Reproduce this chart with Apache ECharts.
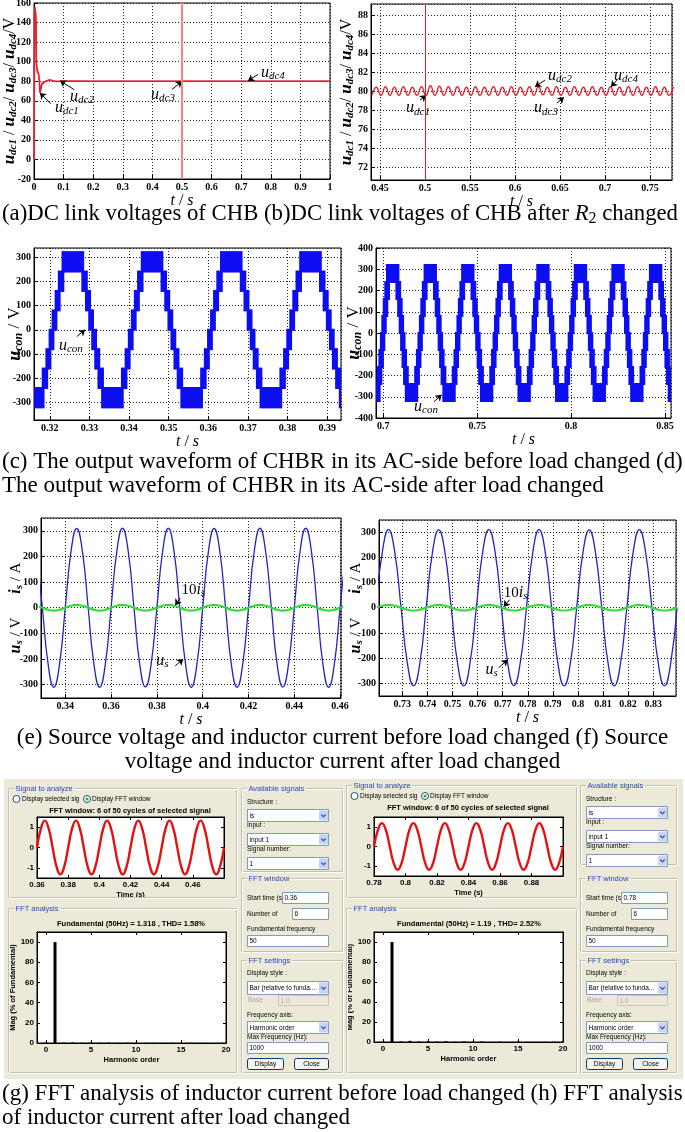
<!DOCTYPE html>
<html>
<head>
<meta charset="UTF-8">
<title>CHB / CHBR waveforms</title>
<style>
  html, body { margin: 0; padding: 0; background: #fff; }
  #main { width: 685px; height: 1132px; }
</style>
<script src="https://cdn.jsdelivr.net/npm/echarts@6.0.0/dist/echarts.min.js"></script>
</head>
<body>
<div id="main"></div>
<script>
// ---- (a) dc-link voltages after start-up  [s] / [V]
var aT = [0, 0.001, 0.002, 0.003, 0.004, 0.005, 0.006, 0.007, 0.008, 0.010,
          0.013, 0.016, 0.018, 0.020, 0.023, 0.027, 0.032, 0.040, 0.046, 0.052,
          0.058, 0.065, 0.075, 0.090, 0.12, 0.2, 0.3, 0.4, 0.5, 0.6,
          0.7, 0.8, 0.9, 1.0];
var aUdc1 = [0, 55, 150, 156, 153, 147, 151, 139, 100, 93,
             90, 87, 79, 68, 71, 77, 79, 80, 80.8, 81.4,
             81, 80.4, 79.8, 80, 80, 80, 80, 80, 80, 80,
             80, 80, 80, 80];
var aUdc2 = [0, 60, 144, 149, 146, 142, 145, 131, 97, 90,
             89, 86, 81, 72, 74, 78, 79.5, 80.2, 81, 81.3,
             80.8, 80.2, 79.9, 80, 80.3, 80, 80, 80, 80, 80,
             80, 80, 80, 80];

// ---- (b) 100 Hz ripple, one value per peak / trough starting at bT0
var bT0 = 0.441, bDt = 0.005;
var bUdc = [79.6, 80.45, 79.6, 80.5, 79.6, 80.45, 79.6, 80.5, 79.6, 80.45, 79.6, 80.5,
            79.55, 80.6, 79.6, 80.55, 79.6, 80.5, 79.6, 80.5, 79.6, 80.45, 79.6, 80.5,
            79.6, 80.45, 79.6, 80.5, 79.6, 80.45, 79.6, 80.5, 79.6, 80.45, 79.6, 80.5,
            79.6, 80.5, 79.65, 80.45, 79.6, 80.5, 79.6, 80.45, 79.6, 80.5, 79.6, 80.45,
            79.6, 80.5, 79.6, 80.45, 79.6, 80.5, 79.6, 80.45, 79.6, 80.5, 79.6, 80.5,
            79.6, 80.45, 79.6, 80.5, 79.6, 80.45, 79.6, 80.5];

// ---- (c), (d) multilevel output: [time the band starts, lower level of band in V]
var cellV = 80;
var conC = [
  [0.3150, -320],
  [0.3183, -240], [0.31923, -160], [0.32004, -80], [0.3208, 0], [0.32156, 80], [0.32237, 160], [0.3233, 240],
  [0.3283, 160], [0.32923, 80], [0.33004, 0], [0.3308, -80], [0.33156, -160], [0.33237, -240], [0.3333, -320],
  [0.3383, -240], [0.33923, -160], [0.34004, -80], [0.3408, 0], [0.34156, 80], [0.34237, 160], [0.3433, 240],
  [0.3483, 160], [0.34923, 80], [0.35004, 0], [0.3508, -80], [0.35156, -160], [0.35237, -240], [0.3533, -320],
  [0.3583, -240], [0.35923, -160], [0.36004, -80], [0.3608, 0], [0.36156, 80], [0.36237, 160], [0.3633, 240],
  [0.3683, 160], [0.36923, 80], [0.37004, 0], [0.3708, -80], [0.37156, -160], [0.37237, -240], [0.3733, -320],
  [0.3783, -240], [0.37923, -160], [0.38004, -80], [0.3808, 0], [0.38156, 80], [0.38237, 160], [0.3833, 240],
  [0.3883, 160], [0.38923, 80], [0.39004, 0], [0.3908, -80], [0.39156, -160], [0.39237, -240], [0.3933, -320],
  [0.3950, null]
];
var conD = [
  [0.6950, -320],
  [0.6975, -240], [0.69843, -160], [0.69924, -80], [0.7000, 0], [0.70076, 80], [0.70157, 160], [0.7025, 240],
  [0.7075, 160], [0.70843, 80], [0.70924, 0], [0.7100, -80], [0.71076, -160], [0.71157, -240], [0.7125, -320],
  [0.7175, -240], [0.71843, -160], [0.71924, -80], [0.7200, 0], [0.72076, 80], [0.72157, 160], [0.7225, 240],
  [0.7275, 160], [0.72843, 80], [0.72924, 0], [0.7300, -80], [0.73076, -160], [0.73157, -240], [0.7325, -320],
  [0.7375, -240], [0.73843, -160], [0.73924, -80], [0.7400, 0], [0.74076, 80], [0.74157, 160], [0.7425, 240],
  [0.7475, 160], [0.74843, 80], [0.74924, 0], [0.7500, -80], [0.75076, -160], [0.75157, -240], [0.7525, -320],
  [0.7575, -240], [0.75843, -160], [0.75924, -80], [0.7600, 0], [0.76076, 80], [0.76157, 160], [0.7625, 240],
  [0.7675, 160], [0.76843, 80], [0.76924, 0], [0.7700, -80], [0.77076, -160], [0.77157, -240], [0.7725, -320],
  [0.7775, -240], [0.77843, -160], [0.77924, -80], [0.7800, 0], [0.78076, 80], [0.78157, 160], [0.7825, 240],
  [0.7875, 160], [0.78843, 80], [0.78924, 0], [0.7900, -80], [0.79076, -160], [0.79157, -240], [0.7925, -320],
  [0.7975, -240], [0.79843, -160], [0.79924, -80], [0.8000, 0], [0.80076, 80], [0.80157, 160], [0.8025, 240],
  [0.8075, 160], [0.80843, 80], [0.80924, 0], [0.8100, -80], [0.81076, -160], [0.81157, -240], [0.8125, -320],
  [0.8175, -240], [0.81843, -160], [0.81924, -80], [0.8200, 0], [0.82076, 80], [0.82157, 160], [0.8225, 240],
  [0.8275, 160], [0.82843, 80], [0.82924, 0], [0.8300, -80], [0.83076, -160], [0.83157, -240], [0.8325, -320],
  [0.8375, -240], [0.83843, -160], [0.83924, -80], [0.8400, 0], [0.84076, 80], [0.84157, 160], [0.8425, 240],
  [0.8475, 160], [0.84843, 80], [0.84924, 0], [0.8500, -80], [0.85076, -160], [0.85157, -240], [0.8525, -320],
  [0.8550, null]
];

// ---- (e), (f) source voltage and 10x source current, one value every 2.5 ms
var acDt = 0.0025;
var eT0 = 0.3275;
var eUs = [219, 0, -219, -310, -219, 0, 219, 309,
           219, 0, -219, -310, -219, 0, 219, 310,
           219, 0, -219, -309, -219, 0, 219, 310,
           219, 0, -219, -310, -219, 0, 219, 309,
           219, 0, -219, -310, -219, 0, 219, 310,
           219, 0, -219, -309, -219, 0, 219, 310,
           219, 0, -219, -310, -219, 0, 219];
var eIs10 = [7.8, 0, -7.8, -11, -7.8, 0, 7.8, 11,
             7.8, 0, -7.8, -11, -7.8, 0, 7.8, 11,
             7.8, 0, -7.8, -11, -7.8, 0, 7.8, 11,
             7.8, 0, -7.8, -11, -7.8, 0, 7.8, 11,
             7.8, 0, -7.8, -11, -7.8, 0, 7.8, 11,
             7.8, 0, -7.8, -11, -7.8, 0, 7.8, 11,
             7.8, 0, -7.8, -11, -7.8, 0, 7.8];
var fT0 = 0.7195;
var fUs = [0, 219, 310, 219, 0, -219, -310, -219,
           0, 219, 309, 219, 0, -219, -310, -219,
           0, 219, 310, 219, 0, -219, -309, -219,
           0, 219, 310, 219, 0, -219, -310, -219,
           0, 219, 309, 219, 0, -219, -310, -219,
           0, 219, 310, 219, 0, -219, -310, -219,
           0];
var fIs10 = [0, 7.8, 11, 7.8, 0, -7.8, -11, -7.8,
             0, 7.8, 11, 7.8, 0, -7.8, -11, -7.8,
             0, 7.8, 11, 7.8, 0, -7.8, -11, -7.8,
             0, 7.8, 11, 7.8, 0, -7.8, -11, -7.8,
             0, 7.8, 11, 7.8, 0, -7.8, -11, -7.8,
             0, 7.8, 11, 7.8, 0, -7.8, -11, -7.8,
             0];

// ---- (g), (h) FFT window signal (2.5 ms steps) and harmonic spectrum
var gT0 = 0.36, hT0 = 0.78;
var gIs = [0, 0.93, 1.32, 0.93, 0, -0.93, -1.32, -0.93,
           0, 0.93, 1.32, 0.93, 0, -0.93, -1.32, -0.93,
           0, 0.93, 1.32, 0.93, 0, -0.93, -1.32, -0.93,
           0, 0.93, 1.32, 0.93, 0, -0.93, -1.32, -0.93,
           0, 0.93, 1.32, 0.93, 0, -0.93, -1.32, -0.93,
           0, 0.93, 1.32, 0.93, 0, -0.93, -1.32, -0.93,
           0];
var hIs = [0, 0.84, 1.19, 0.84, 0, -0.84, -1.19, -0.84,
           0, 0.84, 1.19, 0.84, 0, -0.84, -1.19, -0.84,
           0, 0.84, 1.19, 0.84, 0, -0.84, -1.19, -0.84,
           0, 0.84, 1.19, 0.84, 0, -0.84, -1.19, -0.84,
           0, 0.84, 1.19, 0.84, 0, -0.84, -1.19, -0.84,
           0, 0.84, 1.19, 0.84, 0, -0.84, -1.19, -0.84,
           0];
var harmOrder = [0, 1, 2, 3, 4, 5, 6, 7, 8, 9, 10, 11, 12, 13, 14, 15, 16, 17, 18, 19, 20];
var gMag = [0.4, 100, 0.5, 0.6, 0.3, 0.5, 0.2, 0.4, 0.2, 0.3, 0.2, 0.2, 0.2, 0.1, 0.2, 0.1, 0.1, 0.1, 0.1, 0.1, 0.1];
var hMag = [0.5, 100, 0.7, 1.2, 0.5, 1.0, 0.4, 0.8, 0.3, 0.6, 0.3, 0.5, 0.2, 0.3, 0.2, 0.3, 0.2, 0.2, 0.2, 0.2, 0.2];
var gFund = 'Fundamental (50Hz) = 1.318 , THD= 1.58%';
var hFund = 'Fundamental (50Hz) = 1.19 , THD= 2.52%';

// ---------------------------------------------------------------
var serif = '"Liberation Serif", "Times New Roman", serif';
var sans = '"Liberation Sans", Arial, sans-serif';
var conBlue = '#0d0df2';

function pairs(xs, ys) { return xs.map(function (x, i) { return [x, ys[i]]; }); }
function sampled(t0, dt, ys) { return ys.map(function (y, i) { return [+(t0 + i * dt).toFixed(5), y]; }); }
function bands(steps) {
    var out = [];
    for (var i = 0; i < steps.length - 1; i++) {
        out.push([steps[i][0], steps[i + 1][0], steps[i][1], steps[i][1] + cellV]);
    }
    return out;
}
// each band is widened by the trace thickness (ex px each side)
function bandRenderer(ex) {
    return function (params, api) {
        var a = api.coord([api.value(0), api.value(3)]);
        var b = api.coord([api.value(1), api.value(2)]);
        var cs = params.coordSys;
        var r = echarts.graphic.clipRectByRect(
            { x: a[0] - ex, y: a[1] - 1, width: b[0] - a[0] + 2 * ex, height: b[1] - a[1] + 2 },
            { x: cs.x, y: cs.y, width: cs.width, height: cs.height });
        return r && { type: 'rect', shape: r, style: { fill: conBlue } };
    };
}

var annRich = {
    u: { fontFamily: serif, fontStyle: 'italic', fontSize: 16, color: '#000' },
    s: { fontFamily: serif, fontStyle: 'italic', fontSize: 11, color: '#000', padding: [7, 0, 0, 0] },
    n: { fontFamily: serif, fontSize: 15, color: '#000' }
};
function nameRich(big) {
    return {
        u: { fontFamily: serif, fontStyle: 'italic', fontWeight: 'bold', fontSize: big, color: '#000' },
        s: { fontFamily: serif, fontStyle: 'italic', fontWeight: 'bold', fontSize: Math.round(big * 0.66), color: '#000', padding: [Math.round(big * 0.45), 0, 0, 0] },
        n: { fontFamily: serif, fontSize: big - 1, color: '#000' },
        gap: { width: 24 }
    };
}
var tRich = {
    i: { fontFamily: serif, fontStyle: 'italic', fontSize: 16, color: '#000' },
    n: { fontFamily: serif, fontSize: 16, color: '#000' }
};
var udcName = '{u|u}{s|dc1}{n| / }{u|u}{s|dc2}{n|/ }{u|u}{s|dc3}{n|/ }{u|u}{s|dc4}{n|/V}';
var conName = '{u|u}{s|con}{n| / V}';
var acName = '{u|u}{s|s}{n| / V}{gap| }{u|i}{s|s}{n| / A}';

// arrows + italic labels drawn in data coordinates
function notes(list) {
    return {
        markPoint: {
            symbol: 'circle', symbolSize: 0, silent: true,
            label: { show: true, position: 'inside', rich: annRich },
            data: list.map(function (n) { return { coord: n.at, label: { formatter: n.text } }; })
        },
        markLine: {
            silent: true, symbol: ['none', 'arrow'], symbolSize: 6,
            lineStyle: { color: '#000', width: 1, type: 'solid' },
            label: { show: false },
            data: list.map(function (n) { return [{ coord: n.from }, { coord: n.to }]; })
                .concat((list.vline || []).map(function (v) {
                    return [{ coord: [v.x, v.y0], symbol: 'none', lineStyle: v.style }, { coord: [v.x, v.y1], symbol: 'none' }];
                }))
        }
    };
}

function plotX(gi, min, max, o) {
    o = o || {};
    return {
        type: 'value', gridIndex: gi, min: min, max: max, interval: o.interval, splitNumber: o.split,
        name: '{i|t}{n| / }{i|s}', nameLocation: 'middle', nameGap: o.gap || 9,
        nameTextStyle: { rich: tRich },
        axisLine: { onZero: false, lineStyle: { color: '#000' } },
        axisTick: { inside: true, length: 4, lineStyle: { color: '#000' } },
        axisLabel: { color: '#000', fontFamily: serif, fontWeight: 'bold', fontSize: 10, margin: 3,
                     showMinLabel: o.minLabel !== false, showMaxLabel: o.maxLabel !== false },
        splitLine: { show: true, lineStyle: { color: '#222', type: [1, 2], width: 1 } }
    };
}
function plotY(gi, min, max, name, size, gap, o) {
    o = o || {};
    return {
        type: 'value', gridIndex: gi, min: min, max: max, interval: o.interval, splitNumber: o.split,
        name: name, nameLocation: 'middle', nameGap: gap, nameMoveOverlap: false,
        nameTextStyle: { rich: nameRich(size) },
        axisLine: { onZero: false, lineStyle: { color: '#000' } },
        axisTick: { inside: true, length: 4, lineStyle: { color: '#000' } },
        axisLabel: { color: '#000', fontFamily: serif, fontWeight: 'bold', fontSize: 10, margin: 3,
                     showMinLabel: o.minLabel !== false, showMaxLabel: o.maxLabel !== false },
        splitLine: { show: true, lineStyle: { color: '#222', type: [1, 2], width: 1 } }
    };
}
var guiLabel = { color: '#000', fontFamily: sans, fontWeight: 'bold', fontSize: 8, margin: 3 };
function guiAxis(gi, min, max, o) {
    o = o || {};
    return {
        type: 'value', gridIndex: gi, position: o.pos, min: min, max: max, interval: o.interval, splitNumber: o.split,
        name: o.name || '', nameLocation: 'middle', nameGap: o.gap || 12,
        nameTextStyle: { fontFamily: sans, fontWeight: 'bold', fontSize: 7.5, color: '#000' },
        axisLine: { onZero: false, lineStyle: { color: '#000' } },
        axisTick: { inside: true, length: 3, lineStyle: { color: '#000' } },
        axisLabel: Object.assign({ show: o.mirror !== true, showMinLabel: o.minLabel !== false, showMaxLabel: o.maxLabel !== false }, guiLabel),
        splitLine: { show: false }
    };
}

var grids = [
    { left: 34, top: 3, width: 296, height: 176 },     // a
    { left: 371, top: 4, width: 301, height: 176 },    // b
    { left: 34, top: 248, width: 307, height: 172 },   // c
    { left: 376, top: 248, width: 295, height: 170 },  // d
    { left: 41, top: 518, width: 300, height: 180 },   // e
    { left: 379, top: 520, width: 297, height: 176 },  // f
    { left: 37, top: 817, width: 187, height: 61 },    // g signal
    { left: 37, top: 932, width: 189, height: 111 },   // g spectrum
    { left: 374, top: 817, width: 189, height: 59 },   // h signal
    { left: 374, top: 932, width: 189, height: 110 }   // h spectrum
].map(function (g) {
    return Object.assign({ show: true, backgroundColor: '#fff', borderColor: '#000', borderWidth: 1,
                           containLabel: false, outerBoundsMode: 'none' }, g);
});

var xAxes = [
    plotX(0, 0, 1, { interval: 0.1, gap: 7 }),
    plotX(1, 0.44, 0.7744, { split: 7, minLabel: false, maxLabel: false, gap: 8 }),
    plotX(2, 0.316, 0.3935, { split: 8, minLabel: false, maxLabel: false, gap: 8 }),
    plotX(3, 0.6961, 0.8532, { split: 3, minLabel: false, maxLabel: false, gap: 8 }),
    plotX(4, 0.3294, 0.4604, { split: 7, minLabel: false, maxLabel: false, gap: 7 }),
    plotX(5, 0.7207, 0.8391, { split: 12, minLabel: false, maxLabel: false, gap: 8 }),
    guiAxis(6, 0.36, 0.48, { interval: 0.02, maxLabel: false, name: 'Time (s)', gap: 13 }),
    guiAxis(7, -1, 20, { split: 4, minLabel: false, name: 'Harmonic order', gap: 13 }),
    guiAxis(8, 0.78, 0.90, { interval: 0.02, maxLabel: false, name: 'Time (s)', gap: 13 }),
    guiAxis(9, -1, 20, { split: 4, minLabel: false, name: 'Harmonic order', gap: 13 }),
    guiAxis(6, 0.36, 0.48, { interval: 0.02, pos: 'top', mirror: true }),
    guiAxis(7, -1, 20, { split: 4, pos: 'top', mirror: true }),
    guiAxis(8, 0.78, 0.90, { interval: 0.02, pos: 'top', mirror: true }),
    guiAxis(9, -1, 20, { split: 4, pos: 'top', mirror: true })
];
var yAxes = [
    plotY(0, -20, 160, udcName, 17, 15, { interval: 20 }),
    plotY(1, 70.7, 89.2, udcName, 17, 15, { split: 9, minLabel: false, maxLabel: false }),
    plotY(2, -372, 337, conName, 18, 9, { split: 7, minLabel: false, maxLabel: false }),
    plotY(3, -400, 400, conName, 18, 12, { interval: 100 }),
    plotY(4, -352, 350, acName, 16, 16, { split: 7, minLabel: false, maxLabel: false }),
    plotY(5, -350, 348, acName, 16, 14, { split: 7, minLabel: false, maxLabel: false }),
    guiAxis(6, -1.5, 1.5, { split: 3, minLabel: false, maxLabel: false }),
    guiAxis(7, 0, 110, { interval: 20, maxLabel: false, name: 'Mag (% of Fundamental)', gap: 17 }),
    guiAxis(8, -1.5, 1.5, { split: 3, minLabel: false, maxLabel: false }),
    guiAxis(9, 0, 110, { interval: 20, maxLabel: false, name: 'Mag (% of Fundamental)', gap: 18 }),
    guiAxis(6, -1.5, 1.5, { split: 3, pos: 'right', mirror: true }),
    guiAxis(7, 0, 110, { interval: 20, pos: 'right', mirror: true }),
    guiAxis(8, -1.5, 1.5, { split: 3, pos: 'right', mirror: true }),
    guiAxis(9, 0, 110, { interval: 20, pos: 'right', mirror: true })
];

// annotation lists
var notesA = [
    { text: '{u|u}{s|dc1}', at: [0.111, 53], from: [0.057, 57], to: [0.02, 68] },
    { text: '{u|u}{s|dc2}', at: [0.162, 64], from: [0.135, 71.5], to: [0.088, 80.5] },
    { text: '{u|u}{s|dc3}', at: [0.436, 66], from: [0.466, 71.5], to: [0.5, 80] },
    { text: '{u|u}{s|dc4}', at: [0.807, 89], from: [0.757, 87], to: [0.723, 80.5] }
];
notesA.vline = [{ x: 0.5, y0: -20, y1: 160, style: { color: '#ef8a8a', width: 2.2, type: 'solid' } }];
var notesB = [
    { text: '{u|u}{s|dc2}', at: [0.65, 81.64], from: [0.6333, 81.2], to: [0.6222, 80.5] },
    { text: '{u|u}{s|dc4}', at: [0.7233, 81.64], from: [0.7133, 81.2], to: [0.7067, 80.5] },
    { text: '{u|u}{s|dc1}', at: [0.4922, 78.25], from: [0.4944, 79.1], to: [0.5011, 79.6] },
    { text: '{u|u}{s|dc3}', at: [0.6344, 78.25], from: [0.6467, 78.8], to: [0.6544, 79.4] }
];
notesB.vline = [{ x: 0.5, y0: 70.7, y1: 89.2, style: { color: '#e41a1a', width: 1, type: 'solid' } }];
var notesC = [{ text: '{u|u}{s|con}', at: [0.3253, -67], from: [0.3268, -28], to: [0.3289, 0] }];
var notesD = [{ text: '{u|u}{s|con}', at: [0.7227, -346], from: [0.727, -323], to: [0.7311, -291] }];
var notesE = [
    { text: '{n|10}{u|i}{s|s}', at: [0.3959, 69], from: [0.3902, 38], to: [0.388, 10] },
    { text: '{u|u}{s|s}', at: [0.3824, -208], from: [0.388, -227], to: [0.3915, -200] }
];
var notesF = [
    { text: '{n|10}{u|i}{s|s}', at: [0.7752, 60], from: [0.7728, 32], to: [0.7704, 4] },
    { text: '{u|u}{s|s}', at: [0.7656, -246], from: [0.7684, -238], to: [0.772, -206] }
];

function line(xi, data, color, width, extra) {
    return Object.assign({ type: 'line', xAxisIndex: xi, yAxisIndex: xi, data: data, symbol: 'none',
                           lineStyle: { color: color, width: width }, itemStyle: { color: color } }, extra || {});
}
function stairs(xi, steps, ex) {
    return { type: 'custom', xAxisIndex: xi, yAxisIndex: xi, renderItem: bandRenderer(ex), data: bands(steps),
             encode: { x: [0, 1], y: [2, 3] }, itemStyle: { color: conBlue } };
}

var series = [
    line(0, pairs(aT, aUdc2), '#f04a78', 1.3),
    line(0, pairs(aT, aUdc1), '#e3202a', 1.5, notes(notesA)),
    line(1, sampled(bT0, bDt, bUdc), '#e82430', 1.4, Object.assign({ smooth: true }, notes(notesB))),
    stairs(2, conC, 1.4),
    line(2, [], conBlue, 1, notes(notesC)),
    stairs(3, conD, 2),
    line(3, [], conBlue, 1, notes(notesD)),
    line(4, sampled(eT0, acDt, eUs), '#2323c8', 1.3, Object.assign({ smooth: true }, notes(notesE))),
    line(4, sampled(eT0, acDt, eIs10), '#35dc35', 2.2, { smooth: true }),
    line(5, sampled(fT0, acDt, fUs), '#2323c8', 1.3, Object.assign({ smooth: true }, notes(notesF))),
    line(5, sampled(fT0, acDt, fIs10), '#35dc35', 2.2, { smooth: true }),
    line(6, sampled(gT0, acDt, gIs), '#e51010', 2.4, { smooth: true }),
    { type: 'bar', xAxisIndex: 7, yAxisIndex: 7, data: pairs(harmOrder, gMag), barWidth: 3, itemStyle: { color: '#000' } },
    line(8, sampled(hT0, acDt, hIs), '#e51010', 2.4, { smooth: true }),
    { type: 'bar', xAxisIndex: 9, yAxisIndex: 9, data: pairs(harmOrder, hMag), barWidth: 3, itemStyle: { color: '#000' } }
];

// ---------------- GUI panels and captions (graphic) ----------------
var measure = document.createElement('canvas').getContext('2d');
function textW(str, font) { measure.font = font; return measure.measureText(str).width; }

var G = [];
var guiFont = '6.5px ' + sans;
var guiBold = 'bold 7.5px ' + sans;
function gText(x, y, str, font, fill, align, z) {
    G.push({ type: 'text', x: x, y: y, z: z || 20, silent: true,
             style: { text: str, font: font, fill: fill || '#000', textAlign: align || 'left', textVerticalAlign: 'middle' } });
}
function gRect(x, y, w, h, fill, stroke, z, r) {
    G.push({ type: 'rect', z: z == null ? 18 : z, silent: true,
             shape: { x: x, y: y, width: w, height: h, r: r || 0 },
             style: { fill: fill || 'none', stroke: stroke || 'none', lineWidth: 1 } });
}
function frame(x, y, w, h, title) {
    gRect(x + 0.5, y + 0.5, w - 1, h - 1, 'none', '#c3c0ae', 16);
    gRect(x + 1.5, y + 1.5, w - 1, h - 1, 'none', '#ffffff', 17);
    var f = '7.5px ' + sans;
    gRect(x + 6, y - 4, textW(title, f) + 3, 9, '#ece9d8', 'none', 19);
    gText(x + 7.5, y + 0.5, title, f, '#2a48b5', 'left', 20);
}
function dropdown(x, y, w, h, label) {
    gRect(x + 0.5, y + 0.5, w, h, '#fff', '#7f9db9');
    gRect(x + w - 9, y + 1.5, 9, h - 2, '#c6d4f7', 'none', 19);
    G.push({ type: 'polyline', z: 20, silent: true,
             shape: { points: [[x + w - 6.8, y + h / 2 - 0.5], [x + w - 4.5, y + h / 2 + 1.8], [x + w - 2.2, y + h / 2 - 0.5]] },
             style: { stroke: '#4d6185', lineWidth: 1.3, fill: 'none' } });
    gText(x + 2.5, y + h / 2 + 1, label, guiFont);
}
function edit(x, y, w, h, label, disabled) {
    gRect(x + 0.5, y + 0.5, w, h, disabled ? '#ece9d8' : '#fff', disabled ? '#c9c7ba' : '#7f9db9');
    gText(x + 2.5, y + h / 2 + 1, label, guiFont, disabled ? '#aca899' : '#000');
}
function button(x, y, w, h, label) {
    gRect(x + 0.5, y + 0.5, w, h, '#f5f4ef', '#003c74', 18, 2);
    gText(x + w / 2 + 0.5, y + h / 2 + 1, label, guiFont, '#000', 'center');
}
function radio(cx, cy, on) {
    G.push({ type: 'circle', z: 19, silent: true, shape: { cx: cx, cy: cy, r: 3.5 },
             style: { fill: '#fff', stroke: '#1c5180', lineWidth: 1 } });
    if (on) G.push({ type: 'circle', z: 20, silent: true, shape: { cx: cx, cy: cy, r: 1.6 }, style: { fill: '#2fb12f' } });
}
function guiPanel(p) {
    var L = p.lx, R = p.rx, ty = p.ty, iw = 81;
    gRect(p.bgx, 779, p.bgw, 300, '#ece9d8', 'none', -10);
    frame(L, 788 + ty, p.lw, 110 - ty, 'Signal to analyze');
    radio(L + 8.5, 799 + ty, false);
    gText(L + 14, 799.5 + ty, 'Display selected sig', guiFont);
    radio(L + 79, 799 + ty, true);
    gText(L + 84, 799.5 + ty, 'Display FFT window', guiFont);
    gText(L + 122, 811 + ty, 'FFT window: 6 of 50 cycles of selected signal', guiBold, '#000', 'center');
    frame(L, 908, p.lw, 165, 'FFT analysis');
    gText(L + 123, 924, p.fund, guiBold, '#000', 'center');

    frame(R, 788 + ty, p.rw, p.f3h, 'Available signals');
    gText(R + 6, 802 + ty, 'Structure :', guiFont);
    dropdown(R + 6, 809 + ty, iw, 12, 'is');
    gText(R + 6, 825 + ty, 'Input :', guiFont);
    dropdown(R + 6, 833 + ty, iw, 12, 'input 1');
    gText(R + 6, 849 + ty, 'Signal number:', guiFont);
    dropdown(R + 6, 857 + ty, iw, 12, '1');
    frame(R, 878, p.rw, 74, 'FFT window');
    gText(R + 6, 898, 'Start time (s', guiFont);
    edit(R + 41, 892, iw - 35, 11, p.start);
    gText(R + 6, 914, 'Number of', guiFont);
    edit(R + 51, 908, iw - 45, 11, '6');
    gText(R + 6, 929, 'Fundamental frequency', guiFont);
    edit(R + 6, 935, iw, 11, '50');
    frame(R, 960, p.rw, 113, 'FFT settings');
    gText(R + 6, 973, 'Display style :', guiFont);
    dropdown(R + 6, 981, iw, 13, 'Bar (relative to funda...');
    gText(R + 7, 1000, 'Base', guiFont, '#aca899');
    edit(R + 37, 995, iw - 31, 10, '1.0', true);
    gText(R + 6, 1015, 'Frequency axis:', guiFont);
    dropdown(R + 6, 1021, iw, 12, 'Harmonic order');
    gText(R + 6, 1037, 'Max Frequency (Hz):', guiFont);
    edit(R + 6, 1042, iw, 11, '1000');
    button(R + 6, 1058, 36, 11, 'Display');
    button(R + 53, 1058, 34, 11, 'Close');
}
guiPanel({ lx: 8, lw: 229, rx: 241, rw: 102, ty: 0, f3h: 84, bgx: 4, bgw: 340, start: '0.36', fund: gFund });
guiPanel({ lx: 346, lw: 231, rx: 580, rw: 97, ty: -3, f3h: 80, bgx: 343, bgw: 340, start: '0.78', fund: hFund });

// captions, 23px Times-like; full lines are fitted to the column width
var capSize = 23;
function capFont(size, italic) { return (italic ? 'italic ' : '') + size + 'px ' + serif; }
function fitSize(str, width) { return capSize * width / textW(str, capFont(capSize)); }
function caption(x, y, str, align, width) {
    var size = width ? fitSize(str, width) : capSize;
    gText(x, y, str, capFont(size), '#000', align || 'left', 30);
}
(function () {
    var pre = '(a)DC link voltages of CHB (b)DC link voltages of CHB after ';
    var post = ' changed';
    var size = fitSize(pre + 'R2' + post, 681);
    var x = 2;
    gText(x, 214, pre, capFont(size), '#000', 'left', 30);
    x += textW(pre, capFont(size));
    gText(x, 214, 'R', capFont(size, true), '#000', 'left', 30);
    x += textW('R', capFont(size, true));
    gText(x, 219, '2', capFont(size * 0.7), '#000', 'left', 30);
    x += textW('2', capFont(size * 0.7));
    gText(x, 214, post, capFont(size), '#000', 'left', 30);
})();
caption(2, 462, '(c) The output waveform of CHBR in its AC-side before load changed (d)', 'left', 681);
caption(2, 486, 'The output waveform of CHBR in its AC-side after load changed');
caption(342.5, 738, '(e) Source voltage and inductor current before load changed (f) Source', 'center');
caption(342.5, 762, 'voltage and inductor current after load changed', 'center');
caption(2, 1094, '(g) FFT analysis of inductor current before load changed (h) FFT analysis', 'left', 681);
caption(2, 1118, 'of inductor current after load changed');

var chart = echarts.init(document.getElementById('main'), null, { renderer: 'canvas' });
chart.setOption({
    animation: false,
    backgroundColor: '#fff',
    grid: grids,
    xAxis: xAxes,
    yAxis: yAxes,
    series: series,
    graphic: { elements: G }
});
</script>
</body>
</html>
